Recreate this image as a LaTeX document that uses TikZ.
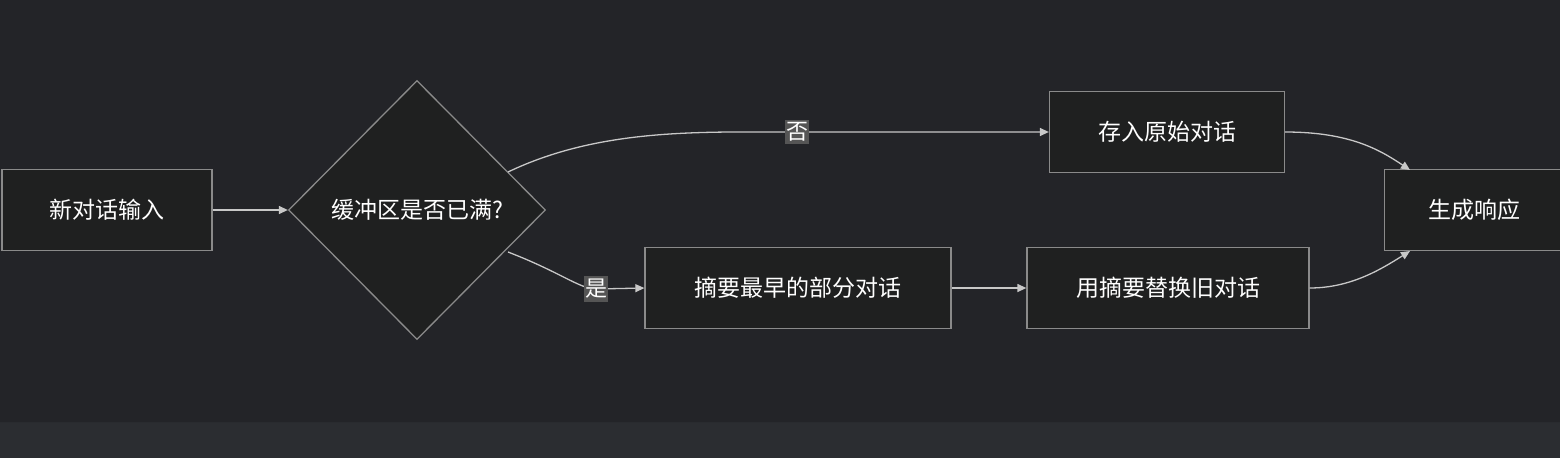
\documentclass[tikz,border=0pt]{standalone}
\usepackage{fontspec}
\newfontfamily\cjk{Noto Sans CJK SC}
\usetikzlibrary{shapes.geometric,arrows.meta}
\definecolor{bgA}{HTML}{232428}
\definecolor{bgB}{HTML}{2B2D31}
\definecolor{nfill}{HTML}{1F2020}
\definecolor{nline}{HTML}{8A8A8A}
\definecolor{eline}{HTML}{C8C8C8}
\definecolor{lbl}{HTML}{555555}
\begin{document}
\begin{tikzpicture}[x=1pt,y=-1pt,
  box/.style={draw=nline,line width=1.3pt,fill=nfill,text=white,font=\cjk\fontsize{23}{27}\selectfont,inner sep=0pt},
  edge/.style={draw=eline,line width=1.3pt,-{Triangle[length=9pt,width=8pt]}},
  elab/.style={fill=lbl,text=white,font=\cjk\fontsize{22}{26}\selectfont,inner xsep=1pt,inner ysep=3pt}]
\useasboundingbox (0,0) rectangle (1560,458);
\fill[bgB] (0,0) rectangle (1560,458);
\fill[bgA,rounded corners=12pt] (-20,-20) rectangle (1580,422);
\node[box,minimum width=210pt,minimum height=81pt] (a) at (107,210) {新对话输入};
\node[box,diamond,aspect=1,minimum width=257pt,minimum height=259pt] (q) at (417,210) {缓冲区是否已满?};
\node[box,minimum width=235pt,minimum height=81pt] (b) at (1167,132) {存入原始对话};
\node[box,minimum width=306pt,minimum height=81pt] (c) at (798,288) {摘要最早的部分对话};
\node[box,minimum width=282pt,minimum height=81pt] (d) at (1168,288) {用摘要替换旧对话};
\node[box,minimum width=190pt,minimum height=81pt,anchor=west] (e) at (1384,210) {\hspace*{-10pt}生成响应};
\coordinate (q1) at (508,172);
\coordinate (q2) at (508,252);
\draw[edge] (a) -- (q.west);
\draw[edge] (q1) .. controls (600,128) and (700,132) .. (797,132) -- (b.west);
\draw[edge] (q2) .. controls (560,272) and (580,289) .. (596,289) -- (c.west);
\draw[edge] (c) -- (d);
\draw[edge] (b.east) .. controls (1350,132) and (1380,150) .. (1410,170);
\draw[edge] (d.east) .. controls (1350,288) and (1380,270) .. (1410,251);
\node[elab] (n1) at (797,132) {否};
\node[elab] (n2) at (596,289) {是};
\end{tikzpicture}
\end{document}
